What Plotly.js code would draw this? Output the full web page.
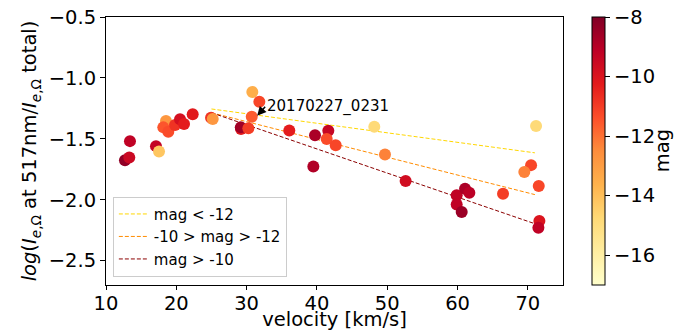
<!DOCTYPE html>
<html>
<head>
<meta charset="utf-8">
<script src="https://cdn.plot.ly/plotly-3.0.1.min.js"></script>
<style>html,body{margin:0;padding:0;background:#fff;}#chart{width:675px;height:331px;}</style>
</head>
<body>
<div id="chart"></div>
<script>
// Scatter data: velocity [km/s], log ratio, magnitude
const velocity = [12.70, 13.31, 13.41, 17.11, 17.54, 18.53, 18.15, 18.86, 19.82, 20.53, 21.10, 22.33,
  24.94, 25.18, 30.81, 31.81, 30.73, 29.2, 29.17, 30.25, 36.07, 39.73, 41.62, 41.39, 42.67, 48.16,
  49.68, 39.49, 52.62, 59.88, 61.07, 61.68, 59.88, 60.59, 71.17, 70.46, 69.50, 71.55, 66.47, 71.64, 71.50];
const logRatio = [-1.675, -1.653, -1.519, -1.560, -1.604, -1.354, -1.406, -1.442, -1.387, -1.340, -1.379, -1.299,
  -1.327, -1.338, -1.115, -1.195, -1.319, -1.42, -1.406, -1.414, -1.431, -1.470, -1.434, -1.502, -1.552, -1.401,
  -1.629, -1.727, -1.846, -1.964, -1.909, -1.942, -2.040, -2.101, -1.395, -1.716, -1.772, -1.887, -1.950, -2.175, -2.230];
const mag = [-8.3, -9.5, -9.2, -9.3, -14.2, -12.8, -11.5, -11.3, -10.8, -9.8, -10.3, -10.2,
  -10.8, -12.8, -13.5, -11.2, -11.6, -10.2, -8.6, -11.0, -10.3, -8.8, -9.4, -11.3, -11.2, -14.8,
  -12.3, -8.9, -9.7, -9.2, -8.8, -9.1, -9.2, -8.5, -14.8, -11.2, -12.3, -11.2, -11.0, -10.0, -9.2];

// Fit lines
const fitX = [25, 71];
const fitBright = [-1.255, -1.615];   // mag < -12
const fitMid = [-1.286, -1.958];      // -10 > mag > -12
const fitFaint = [-1.286, -2.197];    // mag > -10
const fitNames = ['mag < -12', '-10 > mag > -12', 'mag > -10'];

const xTicks = [10, 20, 30, 40, 50, 60, 70];
const yTicks = [-2.5, -2.0, -1.5, -1.0, -0.5];
const cTicks = [-8, -10, -12, -14, -16];

const FONT = 'DejaVu Sans, Liberation Sans, sans-serif';
const ylorrd = [
  [0.0, '#ffffcc'], [0.125, '#ffeda0'], [0.25, '#fed976'], [0.375, '#feb24c'],
  [0.5, '#fd8d3c'], [0.625, '#fc4e2a'], [0.75, '#e31a1c'], [0.875, '#bd0026'], [1.0, '#800026']
];

const traces = [
  {x: fitX, y: fitBright, mode: 'lines', name: fitNames[0], line: {color: '#ffd700', width: 1, dash: '4px,2px'}},
  {x: fitX, y: fitMid, mode: 'lines', name: fitNames[1], line: {color: '#ff8c00', width: 1, dash: '4px,2px'}},
  {x: fitX, y: fitFaint, mode: 'lines', name: fitNames[2], line: {color: '#8b0000', width: 1, dash: '4px,2px'}},
  {
    x: velocity, y: logRatio, mode: 'markers', showlegend: false,
    marker: {
      size: 12, color: mag, colorscale: ylorrd, cmin: -17, cmax: -8,
      line: {width: 0},
      colorbar: {
        x: 1.063, xanchor: 'left', xpad: 0, ypad: 0, y: 0.5, yanchor: 'middle',
        len: 1, lenmode: 'fraction', thickness: 13,
        outlinewidth: 1, outlinecolor: '#000',
        tickvals: cTicks, ticktext: cTicks.map(v => '\u2212' + Math.abs(v)),
        ticks: 'outside', ticklen: 5, tickcolor: '#000',
        tickfont: {family: FONT, size: 19.5, color: '#000'}
      }
    }
  }
];

const layout = {
  width: 675, height: 331,
  margin: {l: 106, r: 112, t: 17, b: 46, autoexpand: false},
  paper_bgcolor: '#fff', plot_bgcolor: '#fff',
  font: {family: FONT, color: '#000'},
  xaxis: {
    range: [10, 75], tickvals: xTicks, ticks: 'outside', ticklen: 4, tickcolor: '#000',
    showline: true, mirror: true, linecolor: '#000', linewidth: 1,
    showgrid: false, zeroline: false, automargin: false, ticklabelstandoff: -3,
    tickfont: {family: FONT, size: 19.5, color: '#000'},
    title: {text: 'velocity [km/s]', font: {family: FONT, size: 19.5, color: '#000'}, standoff: 4}
  },
  yaxis: {
    range: [-2.7, -0.5], tickvals: yTicks, tickformat: '.1f', ticks: 'outside', ticklen: 5, tickcolor: '#000',
    showline: true, mirror: true, linecolor: '#000', linewidth: 1,
    showgrid: false, zeroline: false, automargin: false,
    tickfont: {family: FONT, size: 19.5, color: '#000'},
    title: {
      text: '<i>log</i>(<i>I</i><sub><i>e</i>,\u03a9</sub> at 517nm/<i>I</i><sub><i>e</i>,\u03a9</sub> total)',
      font: {family: FONT, size: 19.5, color: '#000'}, standoff: 6
    }
  },
  legend: {
    x: 0.015, y: 0.031, xanchor: 'left', yanchor: 'bottom',
    bgcolor: '#fff', bordercolor: '#cccccc', borderwidth: 1,
    font: {family: FONT, size: 15, color: '#000'}
  },
  annotations: [{
    x: 31.5, y: -1.31, xref: 'x', yref: 'y',
    text: '20170227_0231', showarrow: true, arrowhead: 2, arrowsize: 1.2, arrowwidth: 1.5,
    arrowcolor: '#000', ax: 8, ay: -9, xanchor: 'left', yanchor: 'middle',
    font: {family: FONT, size: 15, color: '#000'}
  }, {
    x: 1.217, y: 0.5, xref: 'paper', yref: 'paper', xanchor: 'center', yanchor: 'middle',
    text: 'mag', textangle: -90, showarrow: false,
    font: {family: FONT, size: 19.5, color: '#000'}
  }]
};

Plotly.newPlot('chart', traces, layout, {displayModeBar: false, staticPlot: true});
</script>
</body>
</html>
